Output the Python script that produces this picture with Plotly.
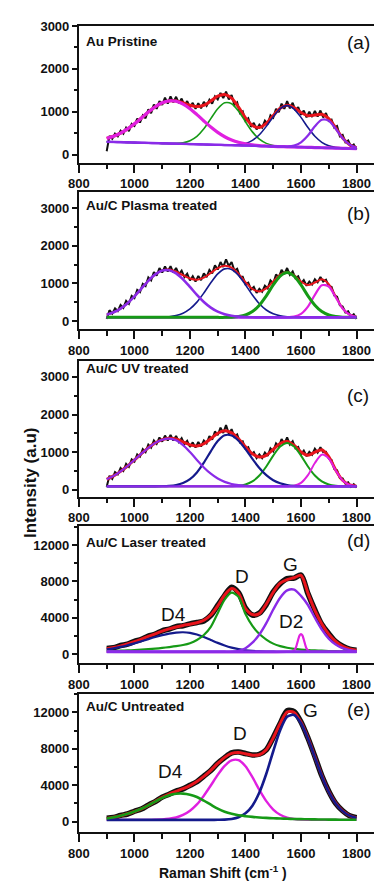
import plotly.graph_objects as go

# ---------------- data ----------------
X25 = [900, 925, 950, 975, 1000, 1025, 1050, 1075, 1100, 1125, 1150, 1175, 1200,
       1225, 1250, 1275, 1300, 1325, 1350, 1375, 1400, 1425, 1450, 1475, 1500,
       1525, 1550, 1575, 1600, 1625, 1650, 1675, 1700, 1725, 1750, 1775, 1800]
X10 = list(range(900, 1801, 10))
XTICKS = [800, 1000, 1200, 1400, 1600, 1800]

# (a) Au Pristine
A_black = [80, 440, 370, 490, 430, 560, 490, 630, 550, 720,
           670, 840, 750, 920, 850, 1060, 970, 1170, 1070, 1250,
           1160, 1330, 1190, 1360, 1220, 1350, 1200, 1310, 1150, 1250,
           1100, 1210, 1070, 1200, 1080, 1230, 1140, 1280, 1190, 1360,
           1290, 1440, 1320, 1470, 1290, 1390, 1160, 1220, 970, 1010,
           790, 850, 650, 740, 590, 700, 630, 790, 710, 920,
           860, 1070, 990, 1190, 1070, 1250, 1080, 1210, 1030, 1110,
           930, 1030, 870, 1000, 880, 1020, 890, 1030, 870, 970,
           790, 820, 630, 670, 430, 460, 290, 330, 190, 240, 120]
A_fit = [381, 431, 503, 601, 719, 855, 993, 1118, 1210, 1255, 1255, 1210, 1153,
         1121, 1153, 1251, 1364, 1404, 1317, 1107, 860, 680, 634, 731, 912,
         1081, 1151, 1099, 983, 908, 924, 942, 843, 623, 390, 234, 165]
A_magenta = [381, 431, 503, 601, 719, 855, 993, 1118, 1210, 1255, 1246, 1181, 1073,
             935, 787, 644, 520, 418, 343, 289, 253, 229, 213, 203, 193,
             189, 184, 180, 176, 171, 167, 162, 158, 153, 149, 144, 140]
A_green = [300, 296, 291, 287, 282, 278, 273, 269, 264, 260, 265, 280, 327,
           428, 604, 840, 1073, 1210, 1189, 1016, 767, 532, 361, 264, 216,
           195, 184, 180, 176, 171, 167, 162, 158, 153, 149, 144, 140]
A_navy = [300, 296, 291, 287, 282, 278, 273, 269, 264, 260, 256, 251, 247,
          242, 238, 233, 229, 224, 225, 234, 262, 333, 464, 660, 887,
          1074, 1144, 1065, 870, 633, 429, 288, 209, 171, 154, 144, 140]
A_violet = [300, 296, 291, 287, 282, 278, 273, 269, 264, 260, 256, 251, 247,
            242, 238, 233, 229, 224, 220, 216, 211, 207, 202, 198, 193,
            189, 191, 214, 289, 446, 662, 816, 792, 605, 385, 234, 165]
A_base = [300, 140]

# (b) Au/C Plasma treated
B_black = [60, 290, 200, 340, 270, 430, 350, 540, 460, 670,
           610, 830, 770, 990, 930, 1160, 1080, 1300, 1210, 1410,
           1290, 1450, 1320, 1460, 1290, 1410, 1250, 1340, 1170, 1260,
           1080, 1190, 1050, 1200, 1090, 1270, 1170, 1360, 1270, 1480,
           1370, 1570, 1440, 1640, 1460, 1570, 1340, 1390, 1180, 1180,
           980, 1020, 840, 910, 750, 860, 780, 940, 870, 1080,
           1000, 1240, 1160, 1360, 1250, 1410, 1230, 1320, 1140, 1190,
           1000, 1090, 940, 1050, 970, 1110, 1030, 1170, 1050, 1100,
           930, 910, 680, 650, 420, 390, 230, 260, 120, 180, 60]
B_fit = [173, 236, 334, 475, 657, 865, 1071, 1241, 1347, 1370, 1316, 1219, 1132,
         1101, 1156, 1279, 1407, 1470, 1420, 1256, 1036, 854, 788, 868, 1054,
         1237, 1306, 1221, 1052, 958, 1025, 1109, 983, 657, 341, 170, 114]
B_violet = [173, 236, 334, 475, 657, 865, 1071, 1241, 1343, 1352, 1268, 1109, 908,
            697, 509, 360, 251, 183, 142, 119, 108, 103, 100, 100, 100,
            100, 100, 100, 100, 100, 100, 100, 100, 100, 100, 100, 100]
B_navy = [100, 100, 100, 100, 100, 100, 100, 100, 104, 118, 148, 210, 324,
          504, 747, 1019, 1256, 1387, 1372, 1214, 965, 695, 463, 296, 194,
          140, 115, 104, 100, 100, 100, 100, 100, 100, 100, 100, 100]
B_green = [100, 100, 100, 100, 100, 100, 100, 100, 100, 100, 100, 100, 100,
           100, 100, 100, 100, 100, 106, 123, 163, 256, 425, 672, 960,
           1197, 1290, 1197, 960, 672, 425, 256, 163, 123, 106, 100, 100]
B_magenta = [100, 100, 100, 100, 100, 100, 100, 100, 100, 100, 100, 100, 100,
             100, 100, 100, 100, 100, 100, 100, 100, 100, 100, 100, 100,
             100, 101, 120, 192, 386, 700, 953, 920, 634, 335, 170, 114]
B_base = [100, 100]

# (c) Au/C UV treated
C_black = [80, 370, 290, 470, 410, 580, 500, 690, 610, 810,
           750, 940, 880, 1080, 1000, 1200, 1120, 1310, 1220, 1390,
           1280, 1440, 1310, 1460, 1310, 1430, 1270, 1370, 1210, 1300,
           1140, 1260, 1120, 1270, 1150, 1310, 1230, 1430, 1330, 1550,
           1450, 1650, 1510, 1720, 1490, 1610, 1410, 1470, 1260, 1290,
           1090, 1130, 940, 1000, 840, 940, 840, 990, 900, 1100,
           1020, 1230, 1150, 1350, 1220, 1390, 1200, 1290, 1100, 1140,
           950, 1040, 890, 1010, 930, 1090, 990, 1130, 1000, 1010,
           830, 790, 550, 520, 310, 300, 160, 200, 80, 150, 60]
C_fit = [277, 369, 489, 632, 794, 960, 1116, 1246, 1334, 1372, 1348, 1273, 1192,
         1165, 1224, 1359, 1503, 1569, 1511, 1351, 1144, 958, 869, 916, 1074,
         1231, 1284, 1183, 1006, 917, 1000, 1065, 881, 528, 251, 127, 96]
C_violet = [277, 369, 489, 632, 794, 960, 1116, 1246, 1331, 1360, 1314, 1186, 1001,
            794, 594, 427, 298, 209, 154, 122, 104, 96, 92, 90, 90,
            90, 90, 90, 90, 90, 90, 90, 90, 90, 90, 90, 90]
C_navy = [90, 90, 90, 90, 90, 90, 90, 90, 93, 102, 124, 177, 281,
          461, 720, 1022, 1295, 1450, 1442, 1303, 1079, 820, 579, 387, 254,
          172, 127, 105, 95, 90, 90, 90, 90, 90, 90, 90, 90]
C_green = [90, 90, 90, 90, 90, 90, 90, 90, 90, 90, 90, 90, 90,
           90, 90, 90, 90, 90, 95, 106, 141, 222, 378, 619, 907,
           1149, 1245, 1149, 907, 619, 378, 222, 141, 106, 95, 90, 90]
C_magenta = [90, 90, 90, 90, 90, 90, 90, 90, 90, 90, 90, 90, 90,
             90, 90, 90, 90, 90, 90, 90, 90, 90, 90, 90, 90,
             90, 92, 109, 184, 388, 712, 933, 830, 512, 246, 127, 96]
C_base = [90, 90]

# (d) Au/C Laser treated
D_black = [620, 700, 940, 1090, 1400, 1620, 1980, 2200, 2560, 2750, 3020, 3120, 3320,
           3480, 3650, 4250, 5350, 6450, 7350, 6750, 5050, 4300, 4500, 5450, 6850,
           7750, 8300, 8350, 8700, 6650, 4850, 3250, 2250, 1370, 880, 540, 430]
D_fit = [588, 727, 905, 1118, 1369, 1649, 1940, 2234, 2523, 2778, 2983, 3150, 3283,
         3447, 3723, 4300, 5300, 6500, 7214, 6690, 5000, 4350, 4450, 5500, 6800,
         7800, 8200, 8400, 8650, 6700, 4800, 3300, 2200, 1400, 850, 560, 420]
D_navy = [518, 637, 785, 968, 1179, 1409, 1650, 1884, 2093, 2258, 2363, 2400, 2333,
          2147, 1873, 1554, 1235, 948, 714, 540, 422, 345, 299, 274, 262,
          250, 250, 250, 250, 250, 250, 250, 250, 250, 250, 250, 250]
D_green = [320, 340, 370, 400, 440, 490, 540, 600, 680, 770, 870, 1000, 1200,
           1550, 2100, 3000, 4500, 6000, 6750, 6300, 4400, 3100, 2200, 1600, 1150,
           880, 700, 580, 500, 440, 400, 370, 340, 320, 300, 290, 280]
D_violet = [250, 250, 250, 250, 250, 250, 250, 250, 250, 250, 250, 250, 250,
            250, 250, 250, 250, 250, 250, 350, 650, 1250, 2150, 3400, 4900,
            6200, 7000, 7100, 6400, 5400, 4000, 2700, 1700, 1050, 650, 430, 330]
D2_x = [900, 1550, 1570, 1580, 1585, 1590, 1595, 1600, 1605, 1610, 1615, 1620, 1630, 1650, 1800]
D2_y = [250, 250, 290, 600, 1050, 1600, 2050, 2200, 2050, 1600, 1050, 600, 290, 250, 250]
D_base = [250, 250]

# (e) Au/C Untreated
E_black = [360, 450, 670, 830, 1130, 1380, 1810, 2200, 2680, 3000, 3350, 3590, 3990,
           4380, 5000, 5610, 6420, 7030, 7550, 7650, 7480, 7330, 7400, 7880, 9250,
           10780, 12200, 12100, 10950, 9180, 7150, 5030, 3340, 2000, 1190, 640, 420]
E_fit = [330, 470, 640, 850, 1100, 1400, 1780, 2220, 2651, 3026, 3316, 3614, 3959,
         4406, 4963, 5635, 6388, 7058, 7495, 7600, 7450, 7300, 7350, 7900, 9200,
         10800, 12050, 12000, 10925, 9202, 7114, 5059, 3306, 2018, 1164, 660, 399]
E_green = [330, 470, 640, 850, 1100, 1400, 1780, 2200, 2600, 2900, 3050, 3070, 2950,
           2700, 2300, 1850, 1420, 1080, 850, 690, 590, 510, 450, 400, 360,
           330, 300, 280, 260, 245, 235, 225, 215, 205, 200, 195, 190]
E_magenta = [180, 180, 180, 180, 180, 180, 180, 200, 231, 306, 446, 724, 1189,
             1886, 2843, 3965, 5133, 6123, 6720, 6754, 6083, 4874, 3487, 2245, 1322,
             744, 426, 273, 213, 190, 180, 180, 180, 180, 180, 180, 180]
E_navy = [180, 180, 180, 180, 180, 180, 180, 180, 180, 180, 180, 180, 180,
          180, 180, 180, 195, 215, 285, 471, 900, 1749, 3190, 5258, 7733,
          10045, 11533, 11719, 10812, 9127, 7059, 5014, 3271, 1993, 1144, 645, 389]

PANEL_TITLES = ["Au Pristine", "Au/C Plasma treated", "Au/C UV treated",
                "Au/C Laser treated", "Au/C Untreated"]
PANEL_TAGS = ["(a)", "(b)", "(c)", "(d)", "(e)"]

# ---------------- style ----------------
RED = "#e8141c"
MAG = "#e020e0"
GRN = "#169a16"
NAV = "#141a8c"
VIO = "#8a2be8"
BLK = "#111111"
FONT = "Liberation Sans, Arial, sans-serif"
W, H = 374, 882
LEFT = 70
XRANGE = [800, 1863]

BOX = [(19, 157), (187, 325), (357, 494), (524, 662), (693, 833)]
YRANGE = [[-184, 3005], [-210, 3420], [-180, 3430], [-980, 14060], [-1200, 14060]]
YDT = [1000, 1000, 1000, 4000, 4000]

fig = go.Figure()


def add(i, x, y, color, width, shape="spline"):
    n = "" if i == 0 else str(i + 1)
    line = dict(color=color, width=width, shape=shape)
    if shape == "spline":
        line["smoothing"] = 0.8
    fig.add_trace(go.Scatter(x=x, y=y, mode="lines", xaxis="x" + n, yaxis="y" + n,
                             line=line, showlegend=False, hoverinfo="skip"))


# (a)
add(0, X10, A_black, BLK, 2, "linear")
add(0, X25, A_fit, RED, 3)
add(0, X25, A_green, GRN, 1.6)
add(0, X25, A_navy, NAV, 1.6)
add(0, X25, A_magenta, MAG, 3.2)
add(0, X25, A_violet, VIO, 2.2)
add(0, [900, 1800], A_base, VIO, 2.4, "linear")
# (b)
add(1, X10, B_black, BLK, 2, "linear")
add(1, X25, B_fit, RED, 2)
add(1, X25, B_navy, NAV, 1.6)
add(1, X25, B_magenta, MAG, 2.2)
add(1, [900, 1800], B_base, VIO, 2.2, "linear")
add(1, X25, B_green, GRN, 3)
add(1, X25, B_violet, VIO, 2.6)
# (c)
add(2, X10, C_black, BLK, 2, "linear")
add(2, X25, C_fit, RED, 3)
add(2, X25, C_green, GRN, 2)
add(2, X25, C_magenta, MAG, 2)
add(2, X25, C_navy, NAV, 2.2)
add(2, [900, 1800], C_base, VIO, 2.4, "linear")
add(2, X25, C_violet, VIO, 2.2)
# (d)
add(3, X25, D_black, BLK, 5.5)
add(3, X25, D_fit, RED, 3)
add(3, X25, D_navy, NAV, 2.2)
add(3, X25, D_green, GRN, 2.2)
add(3, X25, D_violet, VIO, 2.4)
add(3, D2_x, D2_y, MAG, 2.2)
add(3, [900, 1800], D_base, VIO, 3, "linear")
# (e)
add(4, X25, E_black, BLK, 5.5)
add(4, X25, E_fit, RED, 3)
add(4, X25, E_magenta, MAG, 2.4)
add(4, X25, E_navy, NAV, 2.6)
add(4, X25, E_green, GRN, 2.6)

tickfont = dict(family=FONT, size=13, color="#111", weight="bold")
layout = dict(width=W, height=H, margin=dict(l=0, r=0, t=0, b=0),
              paper_bgcolor="white", plot_bgcolor="white", showlegend=False)
for i in range(5):
    n = "" if i == 0 else str(i + 1)
    top, bot = BOX[i]
    layout["xaxis" + n] = dict(
        domain=[LEFT / W, 1], range=XRANGE, anchor="y" + n,
        tickvals=XTICKS, ticks="outside", ticklen=8, tickwidth=2, tickcolor="#111",
        minor=dict(dtick=100, tick0=800, ticks="outside", ticklen=4.5, tickwidth=2,
                   tickcolor="#111"),
        showline=True, linewidth=2, linecolor="#111", mirror=True,
        showgrid=False, zeroline=False, tickfont=tickfont, ticklabelstandoff=0)
    layout["yaxis" + n] = dict(
        domain=[1 - bot / H, 1 - top / H], range=YRANGE[i], anchor="x" + n,
        dtick=YDT[i], tick0=0, tickformat="d", ticks="outside", ticklen=5, tickwidth=2,
        tickcolor="#111",
        minor=dict(dtick=YDT[i] / 2, ticks="outside", ticklen=3, tickwidth=1.5,
                   tickcolor="#111"),
        showline=True, linewidth=2, linecolor="#111", mirror=False,
        showgrid=False, zeroline=False, tickfont=tickfont)
fig.update_layout(**layout)

ann = []
TITLE_Y = [35, 200, 365, 540, 706]
TAG_Y = [36, 208, 392, 538, 709]
for i in range(5):
    ann.append(dict(x=75 / W, y=1 - TITLE_Y[i] / H, xref="paper", yref="paper",
                    text=PANEL_TITLES[i], showarrow=False, xanchor="left", yanchor="middle",
                    font=dict(family=FONT, size=13.5, color="#111", weight="bold")))
    ann.append(dict(x=358 / W, y=1 - TAG_Y[i] / H, xref="paper", yref="paper",
                    text=PANEL_TAGS[i], showarrow=False, xanchor="center", yanchor="middle",
                    font=dict(family=FONT, size=19, color="#111")))

PEAK_LABELS = [
    (3, "D4", 1141, 4320), (3, "D", 1387, 8530), (3, "G", 1563, 9800), (3, "D2", 1563, 3590),
    (4, "D4", 1131, 5490), (4, "D", 1379, 9640), (4, "G", 1636, 12170),
]
for i, t, x, y in PEAK_LABELS:
    n = str(i + 1)
    ann.append(dict(x=x, y=y, xref="x" + n, yref="y" + n, text=t, showarrow=False,
                    xanchor="center", yanchor="middle",
                    font=dict(family=FONT, size=19, color="#111")))

ann.append(dict(x=20 / W, y=1 - 480 / H, xref="paper", yref="paper",
                text="Intensity (a.u)", textangle=-90, showarrow=False,
                xanchor="center", yanchor="middle",
                font=dict(family=FONT, size=17, color="#111", weight="bold")))
ann.append(dict(x=218 / W, y=1 - 873 / H, xref="paper", yref="paper",
                text="Raman Shift (cm<sup>-1</sup> )", showarrow=False,
                xanchor="center", yanchor="middle",
                font=dict(family=FONT, size=14, color="#111", weight="bold")))
fig.update_layout(annotations=ann)

fig.write_html("out.html")
